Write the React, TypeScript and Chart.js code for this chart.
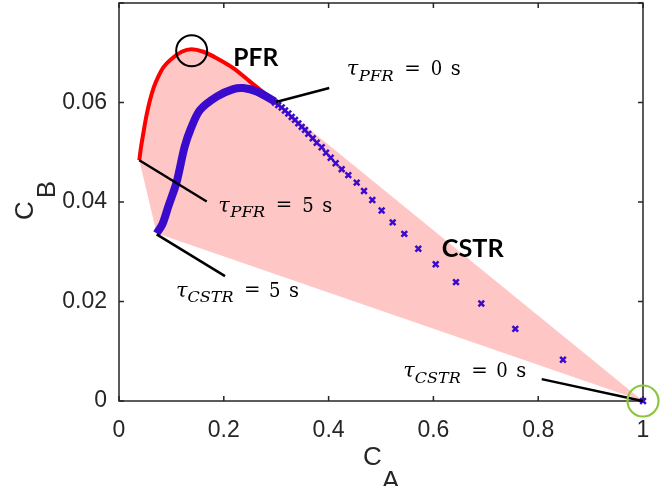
import React, { useEffect, useRef } from 'react';
import { Chart, registerables } from 'chart.js';

Chart.register(...registerables);

// ---- data ----
const xTickValues = [0, 0.2, 0.4, 0.6, 0.8, 1];
const yTickValues = [0, 0.02, 0.04, 0.06, 0.08];

// PFR trajectory (tau_PFR from 0 s to 5 s)
const pfrCA = [0.2996, 0.2819, 0.25, 0.2181, 0.1865, 0.1609, 0.1387, 0.1197, 0.0973, 0.085, 0.075, 0.0665, 0.0592, 0.0525, 0.0464, 0.0420, 0.0387];
const pfrCB = [0.0601, 0.0615, 0.0642, 0.0669, 0.0689, 0.0702, 0.0707, 0.0702, 0.0685, 0.0671, 0.0652, 0.0631, 0.0605, 0.0574, 0.0538, 0.0510, 0.0484];

// dense CSTR part (drawn as thick band)
const cstrDenseCA = [0.2977, 0.2628, 0.2372, 0.2181, 0.1865, 0.1546, 0.138, 0.125, 0.11, 0.0941, 0.0827, 0.0719];
const cstrDenseCB = [0.0602, 0.0622, 0.0629, 0.0627, 0.0612, 0.0585, 0.055, 0.051, 0.044, 0.0391, 0.0355, 0.0337];

// CSTR markers
const cstrCA = [1.0, 0.8473, 0.7563, 0.6914, 0.6431, 0.6044, 0.5712, 0.5445, 0.5223, 0.5013, 0.4834, 0.4676, 0.4536, 0.4376, 0.425, 0.4135, 0.404, 0.395, 0.3868, 0.3773, 0.3697, 0.3613, 0.355, 0.3487, 0.3422, 0.3359, 0.3296, 0.3231, 0.3168, 0.3105, 0.304, 0.2977];
const cstrCB = [0.0, 0.0083, 0.0145, 0.0196, 0.0239, 0.0275, 0.0306, 0.0336, 0.0359, 0.0383, 0.0404, 0.0422, 0.0439, 0.0454, 0.0466, 0.0478, 0.0489, 0.0499, 0.051, 0.0519, 0.0528, 0.0537, 0.0545, 0.0551, 0.0558, 0.0565, 0.0571, 0.0578, 0.0584, 0.059, 0.0595, 0.06];

// attainable region hull (PFR curve, then CSTR end, then feed)
const hullCA = [...pfrCA, 0.0719, 1.0, 0.2996];
const hullCB = [...pfrCB, 0.0337, 0.0, 0.0601];

// leader lines [CA0, CB0, CA1, CB1]
const leaderPfr0 = [0.2996, 0.0601, 0.4013, 0.0629];
const leaderPfr5 = [0.0387, 0.0484, 0.1674, 0.0401];
const leaderCstr5 = [0.0719, 0.0335, 0.2023, 0.0251];
const leaderCstr0 = [0.8067, 0.0044, 0.9994, 0.0];

// highlight circles
const circlePfrMax = [0.1387, 0.0704];
const circleFeed = [1.0, 0.0];

// text annotations
const tauLabels = [
  { ca: 0.4345, cb: 0.0655, sub: 'PFR', val: '0' },
  { ca: 0.1895, cb: 0.03805, sub: 'PFR', val: '5' },
  { ca: 0.1088, cb: 0.02096, sub: 'CSTR', val: '5' },
  { ca: 0.5426, cb: 0.00482, sub: 'CSTR', val: '0' },
];
const boldLabels = [
  { ca: 0.2181, cb: 0.0674, text: 'PFR', w: 45 },
  { ca: 0.6158, cb: 0.02888, text: 'CSTR', w: 62 },
];

const zip = (xs: number[], ys: number[]) => xs.map((x, i) => ({ x, y: ys[i] }));
const seg = (a: number[]) => [{ x: a[0], y: a[1] }, { x: a[2], y: a[3] }];

const AXIS = '#262626';

function fitText(ctx: CanvasRenderingContext2D, text: string, x: number, y: number, font: string, w?: number) {
  ctx.font = font;
  if (w) {
    const m = ctx.measureText(text).width;
    ctx.save();
    ctx.translate(x, y);
    ctx.scale(w / m, 1);
    ctx.fillText(text, 0, 0);
    ctx.restore();
  } else {
    ctx.fillText(text, x, y);
  }
}

const framePlugin = {
  id: 'frame',
  beforeDatasetsDraw(chart: any) {
    const { ctx, chartArea: a, scales } = chart;
    ctx.save();
    ctx.strokeStyle = AXIS;
    ctx.lineWidth = 1.5;
    ctx.strokeRect(a.left, a.top, a.right - a.left, a.bottom - a.top);
    const tl = 5;
    ctx.beginPath();
    xTickValues.forEach((v) => {
      const px = scales.x.getPixelForValue(v);
      ctx.moveTo(px, a.bottom); ctx.lineTo(px, a.bottom - tl);
      ctx.moveTo(px, a.top); ctx.lineTo(px, a.top + tl);
    });
    yTickValues.forEach((v) => {
      const py = scales.y.getPixelForValue(v);
      ctx.moveTo(a.left, py); ctx.lineTo(a.left + tl, py);
      ctx.moveTo(a.right, py); ctx.lineTo(a.right - tl, py);
    });
    ctx.stroke();
    ctx.restore();
  },
  afterDraw(chart: any) {
    const { ctx, chartArea: a, scales } = chart;
    ctx.save();
    ctx.fillStyle = '#000';
    ctx.textBaseline = 'alphabetic';
    ctx.textAlign = 'left';
    // tau labels
    tauLabels.forEach((l) => {
      const x = scales.x.getPixelForValue(l.ca);
      const y = scales.y.getPixelForValue(l.cb);
      const isC = l.sub === 'CSTR';
      const o = isC ? { sub: 11.5, subW: 46, eq: 68, d: 93, s: 113 } : { sub: 12, subW: 35, eq: 57.5, d: 84, s: 104 };
      fitText(ctx, 'τ', x, y, 'italic 21px "DejaVu Serif"', 11.5);
      fitText(ctx, l.sub, x + o.sub, y + 5.5, 'italic 14px "DejaVu Serif"', o.subW);
      fitText(ctx, '=', x + o.eq, y - 0.5, '21px "DejaVu Serif"', 16.5);
      fitText(ctx, l.val, x + o.d, y, '21px "DejaVu Serif"', 11.5);
      fitText(ctx, 's', x + o.s, y, '21px "DejaVu Serif"', 10);
    });
    boldLabels.forEach((l) => {
      const x = scales.x.getPixelForValue(l.ca);
      const y = scales.y.getPixelForValue(l.cb);
      fitText(ctx, l.text, x, y, 'bold 25px Lato', l.w);
    });
    // axis titles
    ctx.fillStyle = AXIS;
    const cx = (a.left + a.right) / 2;
    ctx.font = '26px "Liberation Sans"';
    ctx.fillText('C', cx - 18, a.bottom + 64);
    ctx.fillText('A', cx + 1, a.bottom + 88);
    ctx.save();
    ctx.translate(a.left - 85.7, (a.top + a.bottom) / 2 + 18);
    ctx.rotate(-Math.PI / 2);
    ctx.fillText('C', 0, 0);
    ctx.fillText('B', 21.7, 21.7);
    ctx.restore();
    ctx.restore();
  },
};

export default function App() {
  const ref = useRef<HTMLCanvasElement>(null);
  useEffect(() => {
    if (!ref.current) return;
    const lineDs = (data: any[], color: string, width: number, tension = 0) => ({
      data, showLine: true, borderColor: color, borderWidth: width, pointRadius: 0, tension, fill: false, clip: false as any,
    });
    const chart = new Chart(ref.current, {
      type: 'scatter',
      data: {
        datasets: [
          { data: [{ x: circlePfrMax[0], y: circlePfrMax[1] }], pointStyle: 'circle', pointRadius: 15.5, borderColor: '#000', borderWidth: 2, backgroundColor: 'rgba(0,0,0,0)', clip: false as any },
          { data: [{ x: circleFeed[0], y: circleFeed[1] }], pointStyle: 'circle', pointRadius: 15.5, borderColor: '#8cc63f', borderWidth: 2.2, backgroundColor: 'rgba(0,0,0,0)', clip: false as any },
          lineDs(seg(leaderPfr0), '#000', 2.5),
          lineDs(seg(leaderPfr5), '#000', 2.5),
          lineDs(seg(leaderCstr5), '#000', 2.5),
          lineDs(seg(leaderCstr0), '#000', 2.5),
          { data: zip(cstrCA, cstrCB), pointStyle: 'crossRot', pointRadius: 4, borderColor: '#3a0bcc', borderWidth: 2.5, showLine: false, clip: false as any },
          lineDs(zip(cstrDenseCA, cstrDenseCB), '#3a0bcc', 8, 0.3),
          lineDs(zip(pfrCA, pfrCB), '#ff0000', 4, 0.3),
          { data: zip(hullCA, hullCB), showLine: true, fill: 'shape', backgroundColor: 'rgb(255,198,198)', borderColor: 'rgba(0,0,0,0)', borderWidth: 0, pointRadius: 0, tension: 0 },
        ] as any,
      },
      options: {
        animation: false,
        responsive: false,
        events: [],
        layout: { autoPadding: false, padding: { top: 3, right: 29, left: 0, bottom: 0 } },
        plugins: { legend: { display: false }, tooltip: { enabled: false } },
        scales: {
          x: {
            type: 'linear', min: 0, max: 1,
            grid: { display: false, drawTicks: false },
            border: { display: false },
            afterFit: (s: any) => { s.height = 85; s.paddingLeft = 0; s.paddingRight = 0; },
            ticks: {
              stepSize: 0.2, padding: 16, color: AXIS, maxRotation: 0,
              font: { family: '"Liberation Sans"', size: 23, lineHeight: 1.2 },
              callback: (v: any) => String(Math.round(Number(v) * 10) / 10),
            },
          },
          y: {
            type: 'linear', min: 0, max: 0.08,
            grid: { display: false, drawTicks: false },
            border: { display: false },
            afterFit: (s: any) => { s.width = 119; s.paddingTop = 0; s.paddingBottom = 0; },
            ticks: {
              stepSize: 0.02, padding: 12, color: AXIS,
              font: { family: '"Liberation Sans"', size: 23 },
              callback: (v: any) => {
                const n = Math.round(Number(v) * 100) / 100;
                return n >= 0.08 ? '' : String(n);
              },
            },
          },
        },
      },
      plugins: [framePlugin],
    });
    return () => chart.destroy();
  }, []);
  return (
    <div style={{ position: 'absolute', left: 0, top: 0, width: 672, height: 486, background: '#fff' }}>
      <canvas ref={ref} width={672} height={486} style={{ display: 'block' }} />
    </div>
  );
}
